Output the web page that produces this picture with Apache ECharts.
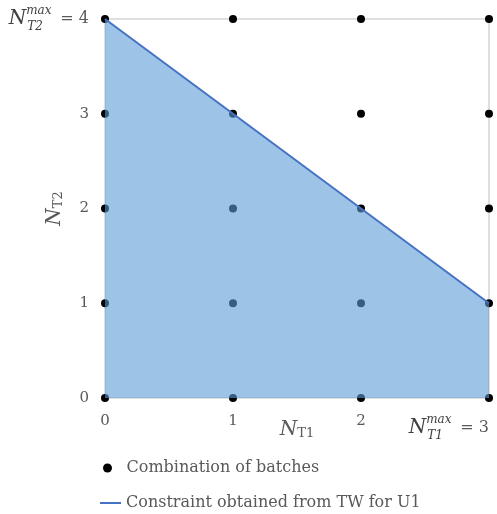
<!DOCTYPE html>
<html>
<head>
<meta charset="utf-8">
<script src="https://cdn.jsdelivr.net/npm/echarts@6/dist/echarts.min.js"></script>
<style>
  html, body { margin: 0; padding: 0; background: #fff; }
  #main { width: 497px; height: 514px; }
</style>
</head>
<body>
<div id="main"></div>
<script>
// 数据
var xTicks = [0, 1, 2, 3];
var yTicks = [0, 1, 2, 3, 4];
var constraintX = [0, 3];
var constraintY = [4, 1];
var legendNames = ['Combination of batches', 'Constraint obtained from TW for U1'];

// 所有批次组合
var batchPoints = [];
for (var i = 0; i < xTicks.length; i++) {
    for (var j = 0; j < yTicks.length; j++) {
        batchPoints.push([xTicks[i], yTicks[j]]);
    }
}
var linePoints = constraintX.map(function (x, k) { return [x, constraintY[k]]; });

var serif = 'DejaVu Serif';
var grey = '#595959';
var mathRich = {
    n: { fontFamily: serif, fontStyle: 'italic', fontSize: 20, color: '#404040', align: 'left', lineHeight: 28 },
    sup: { fontFamily: serif, fontStyle: 'italic', fontSize: 12, color: '#404040', align: 'left', verticalAlign: 'top', width: 1, lineHeight: 14 },
    sub: { fontFamily: serif, fontStyle: 'italic', fontSize: 12, color: '#404040', align: 'left', verticalAlign: 'bottom', width: 28, lineHeight: 12 },
    eq: { fontFamily: serif, fontSize: 16, color: grey, align: 'left' }
};
var nameRich = {
    n: { fontFamily: serif, fontStyle: 'italic', fontSize: 20, color: grey, align: 'left' },
    s: { fontFamily: serif, fontSize: 13, color: grey, align: 'left', verticalAlign: 'bottom', lineHeight: 14 }
};

var chartDom = document.getElementById('main');
var myChart = echarts.init(chartDom);
var option = {
    animation: false,
    grid: {
        left: 105, right: 8, top: 19, bottom: 116,
        outerBoundsMode: 'none',
        containLabel: false,
        show: true, borderColor: '#bfbfbf', borderWidth: 1, backgroundColor: 'transparent'
    },
    legend: [
        {
            left: 98,
            top: 455,
            itemWidth: 28,
            itemHeight: 9,
            data: [legendNames[0]],
            textStyle: { fontFamily: serif, fontSize: 16, color: grey }
        },
        {
            left: 95,
            top: 490,
            itemWidth: 21,
            itemHeight: 2,
            data: [{ name: legendNames[1], icon: 'rect' }],
            textStyle: { fontFamily: serif, fontSize: 16, color: grey }
        }
    ],
    xAxis: {
        type: 'value',
        min: 0, max: 3, interval: 1,
        axisLine: { show: false },
        axisTick: { show: false },
        splitLine: { show: false },
        axisLabel: {
            fontFamily: serif, fontSize: 15, color: grey, margin: 16,
            alignMaxLabel: 'right',
            formatter: function (v) {
                if (v === 3) return '{n|N}{sup|max}{sub|T1}{eq| = 3}';
                return v;
            },
            rich: mathRich
        },
        name: '{n|N}{s|T1}',
        nameLocation: 'middle',
        nameGap: 22,
        nameMoveOverlap: false,
        nameTextStyle: { rich: nameRich }
    },
    yAxis: {
        type: 'value',
        min: 0, max: 4, interval: 1,
        axisLine: { show: false },
        axisTick: { show: false },
        splitLine: { show: false },
        axisLabel: {
            fontFamily: serif, fontSize: 15, color: grey, margin: 16,
            formatter: function (v) {
                if (v === 4) return '{n|N}{sup|max}{sub|T2}{eq| = 4}';
                return v;
            },
            rich: mathRich
        },
        name: '{n|N}{s|T2}',
        nameLocation: 'middle',
        nameRotate: 90,
        nameGap: 40,
        nameMoveOverlap: false,
        nameTextStyle: { rich: nameRich }
    },
    series: [
        {
            name: legendNames[0],
            type: 'scatter',
            data: batchPoints,
            symbolSize: 8,
            itemStyle: { color: '#000', opacity: 1 },
            z: 1
        },
        {
            name: legendNames[1],
            type: 'line',
            data: linePoints,
            symbol: 'none',
            lineStyle: { color: '#4472c4', width: 2 },
            itemStyle: { color: '#4472c4' },
            areaStyle: { color: '#5b9bd5', opacity: 0.6, origin: 'start' },
            z: 3
        }
    ]
};
myChart.setOption(option);
</script>
</body>
</html>
